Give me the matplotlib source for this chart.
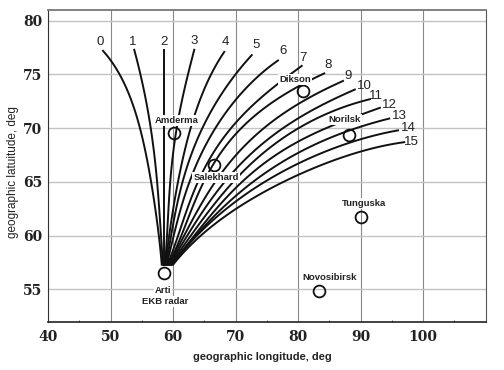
import numpy as np
import matplotlib
matplotlib.use('Agg')
import matplotlib.pyplot as plt

# beam curves, longitude / latitude
curve_lon = [
    [48.8, 51.0, 52.8, 54.4, 55.8, 56.6, 57.4, 58.2],
    [53.8, 55.0, 56.0, 57.0, 57.4, 58.1, 58.4],
    [58.6, 58.6],
    [63.4, 61.8, 61.1, 60.3, 59.7, 59.5, 59.0, 58.7],
    [68.2, 65.6, 63.8, 62.2, 60.9, 60.2, 59.5, 58.8],
    [72.6, 69.9, 67.8, 66.2, 64.8, 63.2, 61.4, 60.8, 60.0, 58.9],
    [76.8, 73.6, 71.2, 69.1, 67.0, 64.6, 62.7, 61.8, 60.5, 59.0],
    [80.6, 77.0, 74.2, 72.0, 69.6, 67.2, 65.0, 63.0, 61.1, 59.1],
    [84.2, 82.6, 79.8, 75.8, 72.6, 69.9, 67.0, 65.6, 64.0, 61.6, 59.2],
    [87.2, 83.4, 80.2, 76.3, 72.6, 69.1, 65.1, 62.1, 59.3],
    [89.1, 83.4, 80.2, 76.3, 72.6, 69.1, 66.4, 62.6, 59.4],
    [91.5, 85.9, 80.2, 75.8, 72.6, 67.8, 63.0, 59.5],
    [93.1, 90.2, 84.3, 80.2, 75.8, 72.6, 69.1, 63.5, 59.6],
    [94.6, 88.6, 85.0, 80.2, 75.8, 72.6, 69.1, 64.0, 59.7],
    [96.0, 90.2, 85.0, 80.2, 75.8, 72.6, 69.1, 64.5, 59.8],
    [97.0, 91.4, 85.0, 80.2, 76.5, 72.6, 69.1, 65.4, 63.2, 60.0],
]
curve_lat = [
    [77.2, 75.6, 73.3, 70.5, 67.4, 64.8, 61.3, 57.3],
    [77.3, 74.5, 71.4, 68.0, 64.9, 60.1, 57.3],
    [77.3, 57.3],
    [77.3, 73.6, 71.4, 69.2, 66.2, 63.8, 60.1, 57.3],
    [77.1, 74.5, 71.7, 68.7, 64.9, 63.8, 60.1, 57.3],
    [76.8, 75.0, 73.3, 71.7, 69.9, 67.7, 65.2, 63.8, 60.1, 57.3],
    [76.3, 75.0, 73.6, 71.7, 69.9, 67.7, 65.7, 63.8, 60.1, 57.3],
    [75.8, 74.2, 73.1, 71.7, 69.9, 68.3, 66.6, 63.8, 60.1, 57.3],
    [75.1, 74.7, 73.9, 72.4, 70.8, 69.1, 67.3, 66.2, 63.8, 60.1, 57.3],
    [74.4, 73.3, 72.4, 70.8, 68.9, 66.8, 63.8, 60.1, 57.3],
    [73.6, 72.0, 71.1, 69.4, 67.5, 65.7, 63.8, 60.1, 57.3],
    [72.7, 71.7, 70.0, 68.3, 66.8, 63.8, 60.1, 57.3],
    [71.9, 71.3, 70.0, 68.7, 67.3, 65.9, 63.8, 60.1, 57.3],
    [70.9, 69.9, 69.1, 67.7, 66.2, 64.9, 63.4, 60.1, 57.3],
    [69.8, 69.1, 68.0, 66.6, 65.3, 64.3, 63.1, 60.1, 57.3],
    [68.7, 68.2, 66.8, 65.5, 64.7, 63.6, 62.2, 60.4, 59.2, 57.3],
]
# where the curve numbers sit
number_lon = [48.3, 53.6, 58.6, 63.4, 68.3, 73.3, 77.6, 80.8, 84.8, 88.0, 90.6, 92.5, 94.7, 96.3, 97.6, 98.2]
number_lat = [78.0, 78.0, 78.0, 78.1, 78.0, 77.7, 77.2, 76.5, 75.9, 74.9, 73.9, 73.0, 72.2, 71.1, 70.0, 68.7]

# stations
station_lon = [58.6, 60.2, 66.6, 80.8, 88.1, 90.1, 83.3]
station_lat = [56.5, 69.6, 66.6, 73.5, 69.4, 61.7, 54.9]
label_names = ['Arti', 'EKB radar', 'Amderma', 'Salekhard', 'Dikson', 'Norilsk', 'Tunguska', 'Novosibirsk']
label_lon = [58.4, 58.7, 60.6, 66.9, 79.5, 87.5, 90.6, 85.1]
label_lat = [54.9, 53.9, 70.7, 65.4, 74.5, 70.8, 63.0, 56.1]

xticks = [40, 50, 60, 70, 80, 90, 100]
yticks = [55, 60, 65, 70, 75, 80]


def smooth(xs, ys):
    # low order fit along the curve, evens out the reading errors
    xs = np.array(xs)
    ys = np.array(ys)
    t = np.r_[0, np.cumsum(np.hypot(np.diff(xs) * 6.25, np.diff(ys) * 10.78))]
    deg = min(4, len(xs) - 1)
    w = np.ones(len(xs))
    w[[0, -1]] = 6
    tt = np.linspace(0, t[-1], 80)
    return np.polyval(np.polyfit(t, xs, deg, w=w), tt), np.polyval(np.polyfit(t, ys, deg, w=w), tt)


fig = plt.figure(figsize=(5.04, 3.70), dpi=100)
ax = fig.add_axes([48 / 504, 1 - 321.7 / 370, 437.5 / 504, 311.7 / 370])
ax.set_xlim(40, 110)
ax.set_ylim(52, 81)

# horizontal grid is lighter than the vertical one
ax.set_axisbelow(True)
ax.grid(axis='y', color='#c2c2c2', lw=1.0)
ax.grid(axis='x', color='#888888', lw=0.8)

for lon, lat in zip(curve_lon, curve_lat):
    sx, sy = smooth(lon, lat)
    ax.plot(sx, sy, color='#111111', lw=1.4, zorder=2)

ax.plot(station_lon, station_lat, 'o', ms=8.5, mfc='none', mec='#111111', mew=1.3, zorder=3)

for i in range(len(number_lon)):
    ax.text(number_lon[i], number_lat[i], str(i), ha='center', va='center',
            fontsize=9.5, family='Liberation Sans', color='#222222', zorder=5)

for name, lon, lat in zip(label_names, label_lon, label_lat):
    ax.text(lon, lat, name, ha='center', va='center', fontsize=6.8, fontweight='bold',
            family='Liberation Sans', color='#222222', zorder=4,
            bbox=dict(fc='white', ec='none', pad=0.8))

ax.set_xticks(xticks)
ax.set_yticks(yticks)
ax.set_xticks([45, 55, 65, 75, 85, 95, 105], minor=True)
ax.tick_params(axis='both', which='major', length=0)
ax.tick_params(axis='x', which='major', pad=6)
ax.tick_params(axis='y', which='major', pad=4)
ax.tick_params(axis='x', which='minor', direction='in', length=1.5, color='#333333')
for lab in ax.get_xticklabels() + ax.get_yticklabels():
    lab.set_family('DejaVu Serif')
    lab.set_fontweight('bold')
    lab.set_fontsize(10)
    lab.set_color('#222222')

ax.set_xlabel('geographic longitude, deg', fontsize=7.9, fontweight='bold',
              family='Liberation Sans', color='#222222', labelpad=6, x=0.49)
ax.set_ylabel('geographic latuitude, deg', fontsize=8.5,
              family='Liberation Sans', color='#222222', labelpad=3, y=0.48)

ax.spines['left'].set_color('#333333')
ax.spines['bottom'].set_color('#222222')
ax.spines['top'].set_color('#777777')
ax.spines['right'].set_color('#555555')
ax.spines['top'].set_linewidth(1.3)
ax.spines['bottom'].set_linewidth(1.2)

fig.savefig('out.png', dpi=100)
